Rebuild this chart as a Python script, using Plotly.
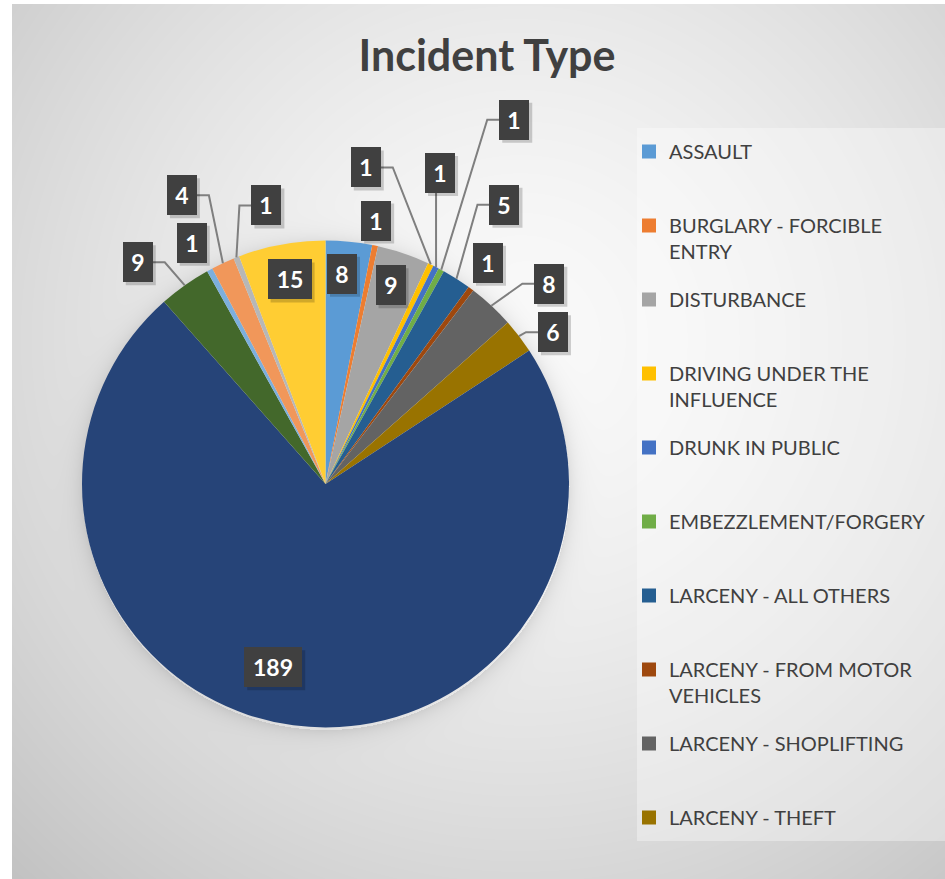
import math
import zlib
import struct
import base64
import numpy as np
import plotly.graph_objects as go

W, H = 945, 879

# ---------------- data ----------------
categories = [
    "ASSAULT",
    "BURGLARY - FORCIBLE ENTRY",
    "DISTURBANCE",
    "DRIVING UNDER THE INFLUENCE",
    "DRUNK IN PUBLIC",
    "EMBEZZLEMENT/FORGERY",
    "LARCENY - ALL OTHERS",
    "LARCENY - FROM MOTOR VEHICLES",
    "LARCENY - SHOPLIFTING",
    "LARCENY - THEFT",
    "UNLISTED CATEGORY 11",
    "UNLISTED CATEGORY 12",
    "UNLISTED CATEGORY 13",
    "UNLISTED CATEGORY 14",
    "UNLISTED CATEGORY 15",
    "UNLISTED CATEGORY 16",
]
counts = [8, 1, 9, 1, 1, 1, 5, 1, 8, 6, 189, 9, 1, 4, 1, 15]

# legend entries visible in the reference (first 10 categories, wrapped as shown)
legend_texts = [
    "ASSAULT",
    "BURGLARY - FORCIBLE<br>ENTRY",
    "DISTURBANCE",
    "DRIVING UNDER THE<br>INFLUENCE",
    "DRUNK IN PUBLIC",
    "EMBEZZLEMENT/FORGERY",
    "LARCENY - ALL OTHERS",
    "LARCENY - FROM MOTOR<br>VEHICLES",
    "LARCENY - SHOPLIFTING",
    "LARCENY - THEFT",
]
chart_title = "Incident Type"

# ---------------- styles / layout ----------------
slice_colors = [
    "#5B9BD5", "#ED7D31", "#A5A5A5", "#FFC000", "#4472C4", "#70AD47",
    "#255E91", "#9E480E", "#636363", "#997300", "#264478", "#43682B",
    "#7CAFDD", "#F1975A", "#B7B7B7", "#FFCD33",
]
PIE_CX, PIE_CY, PIE_R = 325.5, 484.0, 243.5
# label centre offsets (px) relative to the slice's outer-edge midpoint
LABEL_OFFSETS = [(-7, 32), (1, -25), (-13, 32), (-65, -97), (4, -94), (73, -150),
                 (48, -74), (17, -26), (58, -22), (34, -4), (-20, -58), (-47, -23),
                 (-18, -27), (-41, -68), (30, -52), (8, 35)]
LEADERS = [False, False, False, True, True, True, True, False, True, True,
           False, True, False, True, True, False]
BOX_H = 40
ELBOW = 12
LEGEND_BOX = (637, 128, 945, 841)  # left, top, right, bottom in px


def px(x):
    return x / W


def py(y):
    return 1 - y / H


# ---------------- background image (radial gradient + pie halo) ----------------
def make_png_gray(arr):
    h, w = arr.shape
    raw = b"".join(b"\x00" + arr[i].tobytes() for i in range(h))

    def chunk(t, data):
        c = struct.pack(">I", len(data)) + t + data
        return c + struct.pack(">I", zlib.crc32(t + data) & 0xFFFFFFFF)

    ihdr = struct.pack(">IIBBBBB", w, h, 8, 0, 0, 0, 0)
    return (b"\x89PNG\r\n\x1a\n" + chunk(b"IHDR", ihdr)
            + chunk(b"IDAT", zlib.compress(raw, 9)) + chunk(b"IEND", b""))


yy, xx = np.mgrid[0:H, 0:W].astype(float)
d = np.sqrt((xx - 520) ** 2 + (yy - 340) ** 2) / 650.0
bg = 250 - 46 * d ** 1.5
dp = np.sqrt((xx - PIE_CX) ** 2 + (yy - PIE_CY - 2) ** 2) - PIE_R
halo = np.where(dp > 0, 22 * np.exp(-dp / 9.0), 0)
bg = bg - halo
bg[:4, :] = 255
bg[:, :12] = 255
bg = np.clip(bg, 0, 255).astype(np.uint8)
bg_uri = "data:image/png;base64," + base64.b64encode(make_png_gray(bg)).decode()

# ---------------- figure ----------------
fig = go.Figure()
fig.add_trace(go.Pie(
    labels=categories,
    values=counts,
    marker=dict(colors=slice_colors, line=dict(width=0)),
    sort=False,
    direction="clockwise",
    rotation=0,
    textinfo="none",
    showlegend=False,
    hoverinfo="label+value",
    domain=dict(x=[px(PIE_CX - PIE_R), px(PIE_CX + PIE_R)],
                y=[py(PIE_CY + PIE_R), py(PIE_CY - PIE_R)]),
))

for txt, col in zip(legend_texts, slice_colors):
    label = txt if "<br>" in txt else txt + "<br> "
    fig.add_trace(go.Scatter(
        x=[None], y=[None], mode="markers",
        marker=dict(symbol="square", size=14, color=col),
        name=label, legendgroup=txt, showlegend=True, hoverinfo="skip",
    ))

# data labels with leader lines
annotations = []
shapes = [dict(type="rect", xref="paper", yref="paper",
               x0=px(LEGEND_BOX[0]), x1=px(LEGEND_BOX[2]),
               y0=py(LEGEND_BOX[3]), y1=py(LEGEND_BOX[1]),
               fillcolor="rgba(255,255,255,0.35)", line=dict(width=0),
               layer="below")]
total = float(sum(counts))
cum = 0.0
for i, v in enumerate(counts):
    mid = (cum + v / 2.0) / total * 2 * math.pi
    cum += v
    ex = PIE_CX + PIE_R * math.sin(mid)
    ey = PIE_CY - PIE_R * math.cos(mid)
    dx, dy = LABEL_OFFSETS[i]
    lx, ly = ex + dx, ey + dy
    bw = 16 + 14 * len(str(v))
    hw = bw / 2.0
    if LEADERS[i]:
        if abs(ex - lx) <= hw:
            sy = ly + BOX_H / 2 if ey > ly else ly - BOX_H / 2
            path = f"M {px(ex)},{py(sy)} L {px(ex)},{py(ey)}"
        else:
            side = 1 if ex > lx else -1
            sx = lx + side * hw
            kx = sx + side * ELBOW
            path = (f"M {px(sx)},{py(ly)} L {px(kx)},{py(ly)} "
                    f"L {px(ex)},{py(ey)}")
        shapes.append(dict(type="path", path=path, xref="paper", yref="paper",
                           line=dict(color="#7f7f7f", width=2), layer="above"))
    # soft drop shadow for the label box
    shapes.append(dict(type="rect", xref="paper", yref="paper",
                       x0=px(lx - hw + 3), x1=px(lx + hw + 3),
                       y0=py(ly + BOX_H / 2 + 3), y1=py(ly - BOX_H / 2 + 3),
                       fillcolor="rgba(0,0,0,0.18)", line=dict(width=0),
                       layer="above"))
    annotations.append(dict(
        x=px(lx), y=py(ly), xref="paper", yref="paper",
        xanchor="center", yanchor="middle", showarrow=False,
        text=str(v), width=bw, height=BOX_H, borderpad=0, borderwidth=0,
        bgcolor="#404040",
        font=dict(family="Lato", size=23, color="white", weight="bold"),
    ))

fig.update_layout(
    width=W, height=H,
    margin=dict(l=0, r=0, t=0, b=0),
    paper_bgcolor="#e8e8e8",
    plot_bgcolor="rgba(0,0,0,0)",
    xaxis=dict(visible=False),
    yaxis=dict(visible=False),
    title=dict(text=chart_title, x=px(487), xanchor="center", xref="paper",
               y=py(56), yanchor="middle", yref="paper",
               font=dict(family="Lato", size=43, color="#404040", weight="bold")),
    legend=dict(x=px(629), y=py(132), xanchor="left", yanchor="top",
                bgcolor="rgba(0,0,0,0)", borderwidth=0,
                font=dict(family="Lato", size=20, color="#404040"),
                tracegroupgap=19, valign="top", itemwidth=30,
                traceorder="grouped"),
    images=[dict(source=bg_uri, xref="paper", yref="paper", x=0, y=1,
                 sizex=1, sizey=1, xanchor="left", yanchor="top",
                 sizing="stretch", layer="below")],
    annotations=annotations,
    shapes=shapes,
    showlegend=True,
)

fig.write_html("out.html", config={"displayModeBar": False},
               post_script="document.body.style.margin='0';")
